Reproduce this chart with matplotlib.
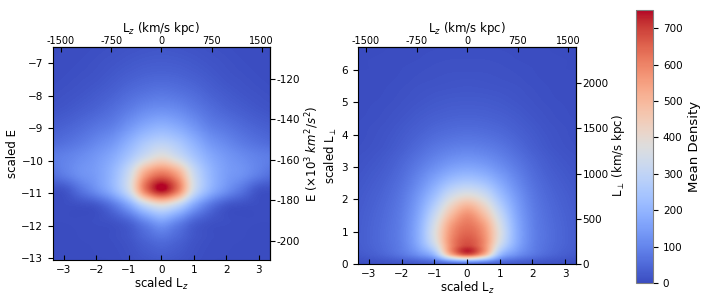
import matplotlib
matplotlib.use("Agg")
import matplotlib.pyplot as plt
import numpy as np

# grid of scaled Lz (cell centres), only x >= 0 is listed, the map is mirrored
lz_half = [0.0, 0.5, 1.0, 1.5, 2.0, 2.5, 3.0, 3.5]

# left panel: scaled E rows (bottom -> top)
e_rows = [-13.4, -12.9, -12.4, -11.9, -11.4, -10.9, -10.4, -9.9,
          -9.4, -8.9, -8.4, -7.9, -7.4, -6.9, -6.4]
dens_E_half = [
    [15, 12, 6, 3, 2, 2, 2, 2],
    [30, 22, 10, 4, 3, 2, 2, 2],
    [65, 45, 18, 7, 4, 3, 2, 2],
    [150, 100, 40, 14, 7, 4, 3, 3],
    [360, 290, 160, 70, 20, 8, 5, 4],
    [750, 620, 340, 200, 125, 70, 18, 10],
    [620, 540, 330, 210, 150, 125, 90, 60],
    [400, 340, 250, 180, 140, 115, 95, 85],
    [280, 250, 190, 135, 105, 80, 62, 50],
    [190, 170, 130, 90, 70, 52, 38, 30],
    [120, 110, 85, 60, 42, 30, 20, 14],
    [75, 68, 55, 38, 26, 17, 11, 7],
    [45, 42, 34, 24, 15, 10, 6, 4],
    [28, 26, 21, 15, 10, 6, 4, 3],
    [18, 16, 13, 9, 6, 4, 3, 2],
]

# right panel: scaled L_perp rows (bottom -> top)
lp_rows = [0.0, 0.3, 0.6, 0.9, 1.2, 1.5, 1.8, 2.1, 2.4, 2.7, 3.0, 3.3,
           3.6, 3.9, 4.2, 4.5, 4.8, 5.1, 5.4, 5.7, 6.0, 6.3, 6.6, 6.9]
dens_P_half = [
    [60, 50, 35, 25, 18, 12, 8, 6],
    [690, 540, 230, 130, 80, 50, 32, 22],
    [680, 590, 340, 180, 95, 60, 40, 28],
    [650, 580, 370, 190, 98, 62, 41, 28],
    [620, 550, 355, 185, 96, 60, 40, 27],
    [580, 490, 320, 172, 92, 57, 38, 26],
    [500, 420, 275, 157, 86, 53, 35, 24],
    [390, 340, 230, 140, 79, 48, 32, 22],
    [295, 265, 190, 120, 70, 43, 28, 19],
    [220, 200, 152, 102, 61, 37, 24, 16],
    [165, 152, 120, 84, 52, 31, 20, 13],
    [125, 116, 95, 68, 43, 26, 16, 11],
    [95, 89, 75, 54, 34, 20, 12, 8],
    [72, 68, 58, 43, 28, 17, 10, 7],
    [55, 52, 45, 34, 23, 14, 9, 6],
    [42, 40, 35, 27, 18, 11, 7, 5],
    [32, 31, 27, 21, 14, 9, 6, 4],
    [25, 24, 21, 16, 11, 7, 5, 4],
    [19, 18, 16, 13, 9, 6, 4, 3],
    [15, 14, 12, 10, 7, 5, 4, 3],
    [11, 11, 10, 8, 6, 4, 3, 3],
    [9, 9, 8, 6, 5, 4, 3, 2],
    [7, 7, 6, 5, 4, 3, 2, 2],
    [6, 6, 5, 4, 3, 3, 2, 2],
]

lz_phys_ticks = [-1500, -750, 0, 750, 1500]
e_phys_ticks = [-120, -140, -160, -180, -200]
lp_phys_ticks = [0, 500, 1000, 1500, 2000]
cbar_ticks = [0, 100, 200, 300, 400, 500, 600, 700]

LZ_UNIT = 485.0    # km/s kpc per scaled unit
E_UNIT = 16.05     # 10^3 km^2/s^2 per scaled unit
LP_UNIT = 358.0    # km/s kpc per scaled unit

TICK_FS = 7.5
LAB_FS = 8.5
UP = 12   # upsampling factor of the read grid


def mirror(half):
    h = np.array(half, dtype=float)
    return np.hstack([h[:, :0:-1], h])


def catmull_1d(a, n_out, axis):
    # Catmull-Rom interpolation of the read grid along one axis
    a = np.moveaxis(a, axis, 0)
    n = a.shape[0]
    p = np.concatenate([a[:1], a, a[-1:]], axis=0)
    u = np.linspace(0, n - 1, n_out)
    i = np.clip(np.floor(u).astype(int), 0, n - 2)
    t = (u - i)[:, None]
    p0, p1, p2, p3 = p[i], p[i + 1], p[i + 2], p[i + 3]
    out = 0.5 * (2 * p1 + (p2 - p0) * t
                 + (2 * p0 - 5 * p1 + 4 * p2 - p3) * t ** 2
                 + (3 * p1 - p0 - 3 * p2 + p3) * t ** 3)
    return np.moveaxis(out, 0, axis)


def smooth_grid(z):
    ny, nx = z.shape
    z = catmull_1d(z, (ny - 1) * UP + 1, 0)
    z = catmull_1d(z, (nx - 1) * UP + 1, 1)
    return np.clip(z, 0, None)


lz_full = np.concatenate([-np.array(lz_half[:0:-1]), lz_half])

fig = plt.figure(figsize=(7.06, 3.06), dpi=100)
ax1 = fig.add_axes([0.0751, 0.150, 0.307, 0.696])
ax2 = fig.add_axes([0.507, 0.137, 0.309, 0.709])
cax = fig.add_axes([0.901, 0.075, 0.024, 0.892])

im = ax1.imshow(smooth_grid(mirror(dens_E_half)), origin="lower",
                aspect="auto", cmap="coolwarm", vmin=0, vmax=750,
                extent=(lz_full[0], lz_full[-1], e_rows[0], e_rows[-1]),
                interpolation="bilinear", interpolation_stage="data")
ax1.set_xlim(-3.34, 3.34)
ax1.set_ylim(-13.05, -6.5)

ax2.imshow(smooth_grid(mirror(dens_P_half)), origin="lower",
           aspect="auto", cmap="coolwarm", vmin=0, vmax=750,
           extent=(lz_full[0], lz_full[-1], lp_rows[0], lp_rows[-1]),
           interpolation="bilinear", interpolation_stage="data")
ax2.set_xlim(-3.34, 3.34)
ax2.set_ylim(0, 6.7)

for ax in (ax1, ax2):
    ax.set_xticks([-3, -2, -1, 0, 1, 2, 3])
    ax.tick_params(axis="x", direction="in", labelsize=TICK_FS)
    ax.tick_params(axis="y", labelsize=TICK_FS)
    ax.set_xlabel("scaled L$_z$", fontsize=LAB_FS, labelpad=1)
    top = ax.secondary_xaxis("top", functions=(lambda s: s * LZ_UNIT,
                                               lambda v: v / LZ_UNIT))
    top.set_xticks(lz_phys_ticks, [str(t) for t in lz_phys_ticks])
    top.tick_params(direction="in", labelsize=7, pad=1)
    top.set_xlabel("L$_z$ (km/s kpc)", fontsize=LAB_FS, labelpad=3)

ax1.set_yticks([-13, -12, -11, -10, -9, -8, -7])
ax1.set_ylabel("scaled E", fontsize=LAB_FS, labelpad=2)
ry1 = ax1.secondary_yaxis("right", functions=(lambda s: s * E_UNIT,
                                              lambda v: v / E_UNIT))
ry1.set_yticks(e_phys_ticks, [str(t) for t in e_phys_ticks])
ry1.tick_params(labelsize=TICK_FS, pad=1)
ry1.set_ylabel(r"E ($\times 10^3$ $km^2/s^2$)", fontsize=LAB_FS, labelpad=3)

ax2.set_yticks([0, 1, 2, 3, 4, 5, 6])
ax2.set_ylabel(r"scaled L$_\perp$", fontsize=LAB_FS, labelpad=2)
ry2 = ax2.secondary_yaxis("right", functions=(lambda s: s * LP_UNIT,
                                              lambda v: v / LP_UNIT))
ry2.set_yticks(lp_phys_ticks, [str(t) for t in lp_phys_ticks])
ry2.tick_params(labelsize=TICK_FS, pad=1)
ry2.set_ylabel(r"L$_\perp$ (km/s kpc)", fontsize=LAB_FS, labelpad=1)

cb = fig.colorbar(im, cax=cax, ticks=cbar_ticks)
cb.ax.tick_params(labelsize=TICK_FS)
cb.set_label("Mean Density", fontsize=9.5)
cb.outline.set_edgecolor("0.5")

fig.savefig("out.png", dpi=100)
